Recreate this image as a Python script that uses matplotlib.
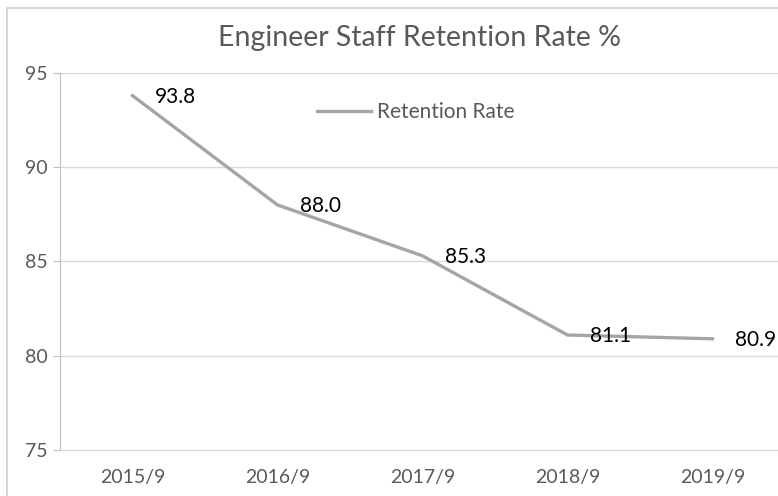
import matplotlib.pyplot as plt
from matplotlib.patches import Rectangle

plt.rcParams['font.family'] = ['Lato', 'DejaVu Sans']

months = ['2015/9', '2016/9', '2017/9', '2018/9', '2019/9']
rate = [93.8, 88.0, 85.3, 81.1, 80.9]
yticks = [75, 80, 85, 90, 95]

W, H = 778, 496
fig = plt.figure(figsize=(W / 100, H / 100), dpi=100)

# outer chart border (right and bottom fall outside the crop)
fig.patches.append(Rectangle((7 / W, -0.1), 1.2, 1 - 8 / H + 0.1,
                             transform=fig.transFigure, fill=False,
                             edgecolor='#d0d0d0', linewidth=1.2))

ax = fig.add_axes([60 / W, 1 - 450 / H, 725 / W, (450 - 73) / H])
x = list(range(len(months)))
ax.plot(x, rate, color='#a5a5a5', linewidth=2.4, label='Retention Rate',
        solid_joinstyle='round')

for xi, v in zip(x, rate):
    ax.annotate('%.1f' % v, (xi, v), xytext=(16, -1), textcoords='offset points',
                ha='left', va='center', fontsize=15, color='black')

ax.set_xlim(-0.5, len(months) - 0.5)
ax.set_ylim(75, 95)
ax.set_yticks(yticks)
ax.set_xticks(x)
ax.set_xticklabels(months)
ax.grid(axis='y', color='#d9d9d9', linewidth=1)
ax.set_axisbelow(True)
for s in ['top', 'right']:
    ax.spines[s].set_visible(False)
ax.spines['bottom'].set_color('#d9d9d9')
ax.spines['left'].set_color('#bfbfbf')
ax.tick_params(axis='y', length=5, color='#bfbfbf', labelsize=14,
               labelcolor='#595959', pad=4)
ax.tick_params(axis='x', length=0, labelsize=14, labelcolor='#595959', pad=14)

fig.text(420 / W, 1 - 38 / H, 'Engineer Staff Retention Rate %', ha='center',
         va='center', fontsize=20.5, color='#595959')

ax.legend(loc='center left', bbox_to_anchor=(298 / W, 1 - 112 / H),
          bbox_transform=fig.transFigure, frameon=False, fontsize=15,
          handlelength=2.6, handletextpad=0.3, labelcolor='#595959')

fig.savefig('out.png', dpi=100)
